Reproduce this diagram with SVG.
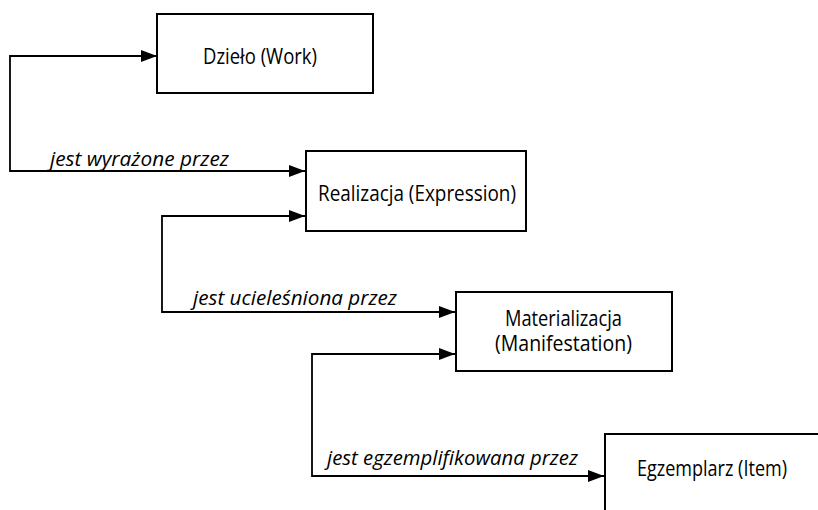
<svg xmlns="http://www.w3.org/2000/svg" width="818" height="510" viewBox="0 0 818 510">
<style>
.box{fill:#fff;stroke:#000;stroke-width:2}
.t{font-family:"Open Sans","Noto Sans",sans-serif;font-size:22px;fill:#000}
.l{font-family:"Open Sans","Noto Sans",sans-serif;font-size:20px;font-style:italic;fill:#000}
.c{fill:none;stroke:#000;stroke-width:1.8}
</style>
<defs>
<marker id="ah" markerWidth="16" markerHeight="12" refX="16" refY="6" orient="auto-start-reverse" markerUnits="userSpaceOnUse">
<path d="M0,0 L16,6 L0,12 Z" fill="#000"/>
</marker>
</defs>
<rect width="818" height="510" fill="#fff"/>
<g id="connectors">
<path class="c" d="M157,56 H10 V171 H305" marker-start="url(#ah)" marker-end="url(#ah)"/>
<path class="c" d="M305,216 H162 V312 H455" marker-start="url(#ah)" marker-end="url(#ah)"/>
<path class="c" d="M455,354 H312 V476 H604" marker-start="url(#ah)" marker-end="url(#ah)"/>
<text class="l" x="50" y="166" textLength="179" lengthAdjust="spacingAndGlyphs">jest wyrażone przez</text>
<text class="l" x="193" y="305" textLength="204" lengthAdjust="spacingAndGlyphs">jest ucieleśniona przez</text>
<text class="l" x="327" y="465" textLength="251" lengthAdjust="spacingAndGlyphs">jest egzemplifikowana przez</text>
</g>
<g id="work">
<rect class="box" x="157" y="14" width="216" height="79"/>
<text class="t" x="203" y="64" textLength="114" lengthAdjust="spacingAndGlyphs">Dzieło (Work)</text>
</g>
<g id="expression">
<rect class="box" x="306" y="151" width="220" height="80"/>
<text class="t" x="318" y="201" textLength="198" lengthAdjust="spacingAndGlyphs">Realizacja (Expression)</text>
</g>
<g id="manifestation">
<rect class="box" x="456" y="292" width="216" height="79"/>
<text class="t" x="505" y="326" textLength="117" lengthAdjust="spacingAndGlyphs">Materializacja</text>
<text class="t" x="495" y="351" textLength="137" lengthAdjust="spacingAndGlyphs">(Manifestation)</text>
</g>
<g id="item">
<rect class="box" x="605" y="434" width="240" height="100"/>
<text class="t" x="637" y="476" textLength="150" lengthAdjust="spacingAndGlyphs">Egzemplarz (Item)</text>
</g>
</svg>
